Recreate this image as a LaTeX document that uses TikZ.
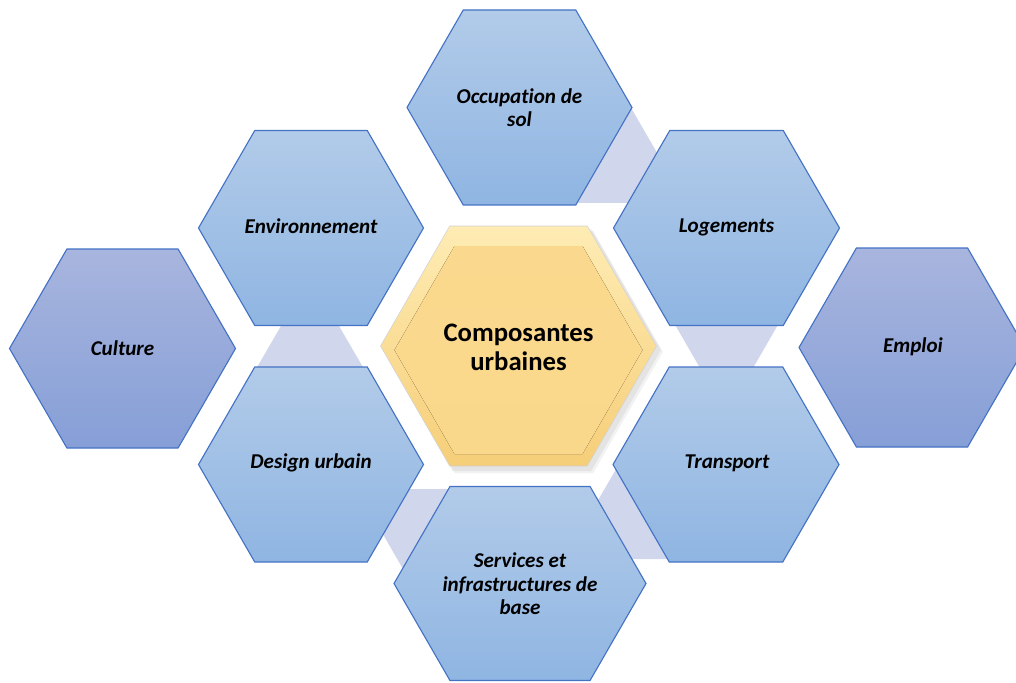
\documentclass[tikz,border=0pt]{standalone}
\usepackage{fontspec}
\setmainfont{Carlito}[Ligatures=NoCommon]
\usetikzlibrary{calc}

\definecolor{hexline}{RGB}{68,114,196}
\definecolor{bluetop}{RGB}{178,203,233}
\definecolor{bluebot}{RGB}{143,181,226}
\definecolor{purpletop}{RGB}{168,181,222}
\definecolor{purplebot}{RGB}{134,159,215}
\definecolor{linkfill}{RGB}{208,214,235}
\definecolor{goldtop}{RGB}{254,236,180}
\definecolor{goldmid}{RGB}{250,217,142}
\definecolor{goldbot}{RGB}{246,206,120}

% hexagon with points left and right: centre x, centre y, half width, half height
\newcommand{\hexpath}[4]{(#1-#3,#2) -- (#1-#3+0.577*#4,#2-#4) -- (#1+#3-0.577*#4,#2-#4) -- (#1+#3,#2) -- (#1+#3-0.577*#4,#2+#4) -- (#1-#3+0.577*#4,#2+#4) -- cycle}

\begin{document}
\begin{tikzpicture}[x=0.025cm, y=-0.025cm]
    \tikzstyle{hexblue} = [draw=hexline, line width=0.8pt, top color=bluetop, bottom color=bluebot]
    \tikzstyle{hexpurple} = [draw=hexline, line width=0.8pt, top color=purpletop, bottom color=purplebot]
    \tikzstyle{hexgold} = [draw=gray!35, line width=0.4pt, top color=goldtop, bottom color=goldbot]
    \tikzstyle{link} = [fill=linkfill]
    \tikzstyle{hextext} = [font=\fontsize{15}{16.7}\selectfont\bfseries\itshape, align=center, text=black]
    \tikzstyle{centertext} = [font=\fontsize{19}{20.5}\selectfont\bfseries, align=center, text=black]
    \useasboundingbox (0,0) rectangle (1016,682);
    \clip (0,0) rectangle (1016,682);
    % Links
    \fill [link] (630,106) -- (686,203) -- (560,203) -- cycle;
    \fill [link] (310,276) -- (382,400) -- (238,400) -- cycle;
    \fill [link] (726.5,414) -- (655,290) -- (798,290) -- cycle;
    \fill [link] (411,583) -- (357,489) -- (465,489) -- cycle;
    \fill [link] (619,464) -- (674,559) -- (564,559) -- cycle;
    % Hexagons
    \draw [hexblue] \hexpath{519.5}{107.5}{112.5}{97.5};
    \draw [hexblue] \hexpath{311}{228}{112.5}{97.5};
    \draw [hexblue] \hexpath{726.5}{228}{113}{97.5};
    \draw [hexblue] \hexpath{311}{464.5}{112.5}{97.5};
    \draw [hexblue] \hexpath{726}{464.5}{113}{97.5};
    \draw [hexblue] \hexpath{520}{583.5}{126}{97};
    \draw [hexpurple] \hexpath{122.5}{348.5}{113}{99.5};
    \draw [hexpurple] \hexpath{912}{347.5}{113}{99.5};
    % Centre with soft bevel and shadow
    \fill [black, opacity=0.06] \hexpath{522}{350}{139}{121};
    \fill [black, opacity=0.05] \hexpath{524}{352}{139}{121};
    \draw [hexgold] \hexpath{518.5}{346}{138}{120};
    \fill [top color=goldmid, bottom color=goldmid!85!goldbot] \hexpath{518.5}{350}{124}{104};
    % Nodes
    \node (occupation) [hextext] at (519.5,107.5) {Occupation de\\ sol};
    \node (environnement) [hextext] at (311,226) {Environnement};
    \node (logements) [hextext] at (726.5,227) {Logements};
    \node (culture) [hextext] at (122.5,348) {Culture};
    \node (emploi) [hextext] at (913,347) {Emploi};
    \node (design) [hextext] at (311,463) {Design urbain};
    \node (transport) [hextext] at (727,463) {Transport};
    \node (services) [hextext] at (520,584) {Services et\\ infrastructures de\\ base};
    \node (composantes) [centertext] at (518.5,347) {Composantes\\ urbaines};
\end{tikzpicture}
\end{document}
